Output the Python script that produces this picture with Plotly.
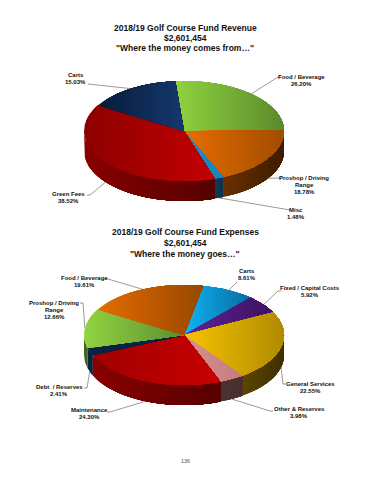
import math
import plotly.graph_objects as go

# ---- data ----
rev_names = ["Food / Beverage", "Proshop / Driving<br>Range", "Misc", "Green Fees", "Carts"]
rev_values = [26.20, 18.78, 1.48, 38.52, 15.03]
exp_names = ["Carts", "Fixed / Capital Costs", "General Services", "Other & Reserves",
             "Maintenance", "Debt  / Reserves", "Proshop / Driving<br>Range", "Food / Beverage"]
exp_values = [8.61, 5.92, 22.55, 3.98, 24.30, 2.41, 12.66, 19.61]
rev_title = ["2018/19 Golf Course Fund Revenue", "$2,601,454", '"Where the money comes from…"']
exp_title = ["2018/19 Golf Course Fund Expenses", "$2,601,454", '"Where the money goes…"']
page_number = "136"

# ---- styles: (top-left, top-right, wall-left, wall-right) ----
rev_cols = [("#8fd33f", "#5c8a2c", "#3a5a1a", "#3a5a1a"),
            ("#e86e00", "#a04c00", "#6a3000", "#3c1c00"),
            ("#1a90cc", "#1a84bc", "#103c5c", "#0e3048"),
            ("#8c0000", "#c40000", "#8a0000", "#560000"),
            ("#081c3a", "#16386e", "#081c3a", "#081c3a")]
exp_cols = [("#10b4f4", "#0a6a9c", "#0a4a70", "#0a4a70"),
            ("#5e2296", "#3e1260", "#2a0c44", "#2a0c44"),
            ("#f8c400", "#b08a00", "#5c4600", "#3e3000"),
            ("#d89090", "#c47c7c", "#4c3232", "#4a2e2e"),
            ("#a00000", "#c80000", "#8a0000", "#560000"),
            ("#0a2244", "#0a2244", "#0a2244", "#0a2040"),
            ("#92d440", "#5c8e30", "#46701e", "#3a5a1a"),
            ("#e66c00", "#964800", "#6a3000", "#6a3000")]

# ---- layout ----
PIES = [dict(cx=184, cy=131, rx=100, ry=50, d=20, start=-5),
        dict(cx=184, cy=335, rx=100, ry=50, d=20, start=11)]
REV_LAB = [((278, 77), (301.7, 77)), ((278, 178), (304, 178)), ((287, 210), (296, 210)),
           ((90, 195), (68, 194)), ((88, 84), (75.7, 75))]
EXP_LAB = [((237, 282), (247, 271)), ((278, 291), (310, 288)), ((283, 384), (310, 384)),
           ((270, 411), (299, 409)), ((110, 412), (89, 410)), ((87, 388), (59, 387)),
           ((83, 303), (54, 303)), ((108, 279), (84, 278))]
STRIP = 2.0
fig = go.Figure()


def mix(a, b, f):
    f = max(0, min(1, f))
    ca = [int(a[i:i + 2], 16) for i in (1, 3, 5)]
    cb = [int(b[i:i + 2], 16) for i in (1, 3, 5)]
    return "rgb(%d,%d,%d)" % tuple(round(p + (q - p) * f) for p, q in zip(ca, cb))


def clip_left(poly, lo):
    out = []
    for i, p in enumerate(poly):
        q = poly[(i + 1) % len(poly)]
        if p[0] >= lo:
            out.append(p)
        if (p[0] >= lo) != (q[0] >= lo):
            f = (lo - p[0]) / (q[0] - p[0])
            out.append((lo, p[1] + f * (q[1] - p[1])))
    return out


def paint(poly, c1, c2):
    # painter's gradient: each step covers from its left edge to the right end, so no seams
    xs = [p[0] for p in poly]
    x0, x1 = min(xs), max(xs)
    n = max(1, int((x1 - x0) / STRIP))
    for i in range(n):
        s = clip_left(poly, x0 + (x1 - x0) * i / n)
        if len(s) < 3:
            continue
        fig.add_trace(go.Scatter(x=[p[0] for p in s] + [s[0][0]], y=[p[1] for p in s] + [s[0][1]],
                                 mode="lines", fill="toself", fillcolor=mix(c1, c2, (i + .5) / n),
                                 line=dict(width=0), hoverinfo="skip", showlegend=False))


def pt(g, t, dz=0):
    r = math.radians(t)
    return (g["cx"] + g["rx"] * math.sin(r), g["cy"] - g["ry"] * math.cos(r) + dz)


def arc(g, a, b, dz=0):
    n = max(2, int(abs(b - a) / 1.5))
    return [pt(g, a + (b - a) * i / n, dz) for i in range(n + 1)]


def pie(g, values, names, cols, labs, title, title_ys):
    tot = sum(values)
    t = g["start"]
    spans = []
    for v in values:
        spans.append((t, t + v / tot * 360))
        t = spans[-1][1]
    # walls: visible front half, 90..270 degrees
    for (a, b), col in zip(spans, cols):
        lo, hi = max(a, 90), min(b, 270)
        if lo < hi:
            paint(arc(g, lo, hi) + arc(g, hi, lo, g["d"]), col[2], col[3])
    # tops
    for (a, b), col in zip(spans, cols):
        paint([(g["cx"], g["cy"])] + arc(g, a, b), col[0], col[1])
    # leaders and labels
    for (a, b), name, v, (elbow, lab) in zip(spans, names, values, labs):
        m = (a + b) / 2
        front = 90 < (m % 360) < 270
        p = pt(g, m, g["d"] if front else 0)
        end_x = elbow[0] + (3 if lab[0] > elbow[0] else -3)
        if abs(lab[1] - elbow[1]) > 5:
            xs, ys = [p[0], elbow[0]], [p[1], elbow[1]]
        else:
            xs, ys = [p[0], elbow[0], end_x], [p[1], elbow[1], elbow[1]]
        fig.add_trace(go.Scatter(x=xs, y=ys, mode="lines", line=dict(color="#555555", width=0.6),
                                 hoverinfo="skip", showlegend=False))
        lines = name.split("<br>") + ["%.2f%%" % v]
        for i, tx in enumerate(lines):
            fig.add_annotation(x=lab[0], y=lab[1] + i * 6.9, text="<b>%s</b>" % tx, showarrow=False,
                               xanchor="center", yanchor="middle",
                               font=dict(family="Liberation Sans", size=6, color="#111111"))
    for tx, y in zip(title, title_ys):
        fig.add_annotation(x=185, y=y, text="<b>%s</b>" % tx, showarrow=False, xanchor="center",
                           yanchor="middle", font=dict(family="Liberation Sans", size=8.5, color="#111111"))


pie(PIES[0], rev_values, rev_names, rev_cols, REV_LAB, rev_title, [27.7, 38, 48])
pie(PIES[1], exp_values, exp_names, exp_cols, EXP_LAB, exp_title, [232, 243, 254])
fig.add_annotation(x=185, y=461, text=page_number, showarrow=False,
                   font=dict(family="Liberation Sans", size=5.5, color="#555555"))
fig.update_layout(width=370, height=480, margin=dict(l=0, r=0, t=0, b=0), paper_bgcolor="white",
                  plot_bgcolor="white", showlegend=False,
                  xaxis=dict(range=[0, 370], visible=False, fixedrange=True),
                  yaxis=dict(range=[480, 0], visible=False, fixedrange=True))
fig.write_html("out.html", config=dict(displayModeBar=False),
               post_script="document.body.style.margin='0';document.documentElement.style.overflow='hidden';")
